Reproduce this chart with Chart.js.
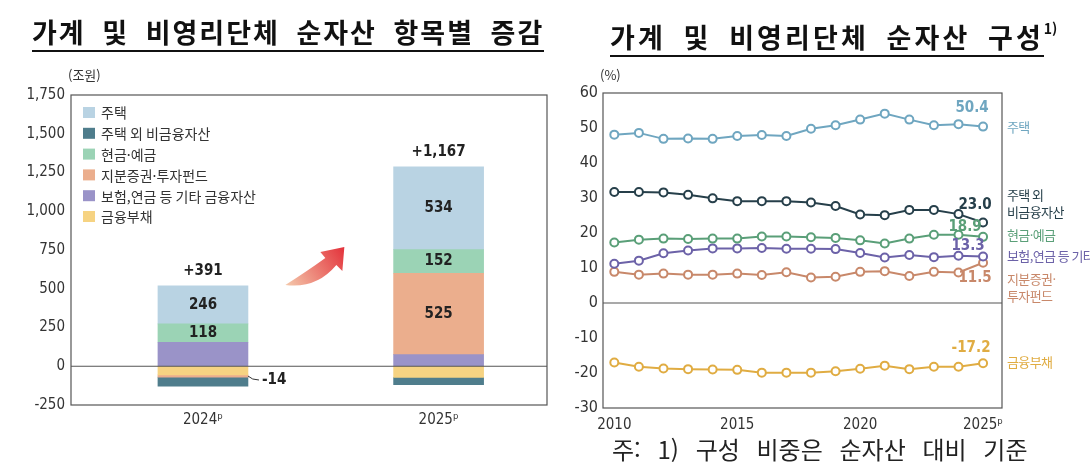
<!DOCTYPE html>
<html lang="ko">
<head>
<meta charset="UTF-8">
<title>가계 및 비영리단체 순자산</title>
<script src="https://cdn.jsdelivr.net/npm/chart.js"></script>
<style>
  body {
    margin: 0;
    background: #fff;
    width: 1090px;
    height: 474px;
    position: relative;
    overflow: hidden;
    font-family: 'Noto Sans CJK KR', sans-serif;
  }
  canvas { position: absolute; top: 0; }
  #leftChart { left: 0; }
  #rightChart { left: 555px; }
  .title {
    position: absolute;
    top: 14px;
    font-weight: 700;
    font-size: 27px;
    line-height: 36px;
    color: #111;
    white-space: nowrap;
  }
  .title span { border-bottom: 2px solid #111; display: inline-block; }
  .title sup { font-size: 14px; letter-spacing: 0; position: relative; top: -4px; }
  .unit { position: absolute; top: 65px; font-size: 13px; color: #333; }
  .note {
    position: absolute;
    left: 612px;
    top: 434px;
    font-size: 24px;
    line-height: 30px;
    color: #222;
    word-spacing: 10px;
    white-space: nowrap;
  }
</style>
</head>
<body>

<canvas id="leftChart" width="555" height="474"></canvas>
<canvas id="rightChart" width="535" height="474"></canvas>

<div class="title" style="left:32px;"><span style="letter-spacing:2px; word-spacing:7px;">가계 및 비영리단체 순자산 항목별 증감</span></div>
<div class="title" style="left:610px;"><span style="letter-spacing:3.1px; word-spacing:7px;">가계 및 비영리단체 순자산 구성</span><sup>1)</sup></div>
<div class="unit" style="left:68px;">(조원)</div>
<div class="unit" style="left:600px;">(%)</div>
<div class="note">주: 1) 구성 비중은 순자산 대비 기준</div>

<script>
  // ---- 왼쪽: 항목별 증감 (조원) ----
  const years = ['2024ᵖ', '2025ᵖ'];
  const changeLabels = ['주택', '주택 외 비금융자산', '현금·예금', '지분증권·투자펀드', '보험,연금 등 기타 금융자산', '금융부채'];
  const housing = [246, 534];
  const nonFinOther = [-58, -47];
  const cashDeposit = [118, 152];
  const equityFund = [-14, 525];
  const insurance = [155, 75];
  const finLiab = [-56, -72];

  // ---- 오른쪽: 순자산 구성 (%) ----
  const compYears = [2010, 2011, 2012, 2013, 2014, 2015, 2016, 2017, 2018, 2019, 2020, 2021, 2022, 2023, 2024, 2025];
  const shareLabels = ['주택', '주택 외\n비금융자산', '현금·예금', '보험,연금 등 기타', '지분증권·\n투자펀드', '금융부채'];
  const housingShare = [48.1, 48.6, 46.9, 47.0, 46.9, 47.7, 48.0, 47.7, 49.8, 50.8, 52.4, 54.1, 52.4, 50.8, 51.1, 50.4];
  const nonFinShare = [31.7, 31.7, 31.6, 30.9, 29.9, 29.1, 29.1, 29.1, 28.7, 27.7, 25.3, 25.1, 26.6, 26.6, 25.4, 23.0];
  const cashShare = [17.3, 18.1, 18.4, 18.3, 18.4, 18.4, 19.0, 19.0, 18.8, 18.6, 17.9, 17.0, 18.4, 19.5, 19.5, 18.9];
  const insShare = [11.2, 12.1, 14.2, 15.0, 15.6, 15.6, 15.7, 15.5, 15.5, 15.4, 14.3, 13.0, 13.7, 13.1, 13.5, 13.3];
  const equityShare = [8.9, 8.1, 8.4, 8.1, 8.1, 8.4, 8.0, 8.8, 7.3, 7.5, 8.9, 9.1, 7.7, 8.9, 8.7, 11.5];
  const liabShare = [-17.0, -18.2, -18.7, -18.9, -19.0, -19.1, -19.9, -19.9, -19.9, -19.5, -18.8, -17.9, -18.9, -18.2, -18.2, -17.2];

  const fontNum = "'Liberation Sans Narrow', 'DejaVu Sans Condensed', 'Noto Sans CJK KR', sans-serif";
  const fontKr = "'Noto Sans CJK KR', sans-serif";

  const changeSeries = [housing, nonFinOther, cashDeposit, equityFund, insurance, finLiab];
  const barColors = ['#b9d3e3', '#4f7d8c', '#9bd3b5', '#ebae8d', '#9a93c8', '#f6d382'];
  const stackOrder = [5, 4, 3, 2, 1, 0]; // 0 기준선에서 가까운 순서
  const valueSeries = [0, 2, 3];         // 막대 안에 값 표시

  const leftDecor = {
    id: 'leftDecor',
    afterDatasetsDraw(chart) {
      const { ctx, chartArea: a, scales: { x, y } } = chart;
      ctx.save();
      ctx.strokeStyle = '#555';
      ctx.lineWidth = 1.2;
      ctx.strokeRect(a.left, a.top, a.width, a.height);
      const y0 = y.getPixelForValue(0);
      ctx.beginPath(); ctx.moveTo(a.left, y0); ctx.lineTo(a.right, y0); ctx.stroke();

      // 막대 값
      ctx.fillStyle = '#222';
      ctx.font = `bold 15px ${fontNum}`;
      ctx.textBaseline = 'middle';
      chart.data.datasets.forEach((ds, di) => {
        if (!ds.showValue) return;
        chart.getDatasetMeta(di).data.forEach((bar, i) => {
          const v = ds.data[i].y;
          const cy = (bar.y + bar.base) / 2;
          if (Math.abs(v) >= 100) {
            ctx.textAlign = 'center';
            ctx.fillText(String(v), bar.x, cy);
          } else {
            const rx = bar.x + bar.width / 2;
            ctx.strokeStyle = '#333'; ctx.lineWidth = 1;
            ctx.beginPath(); ctx.moveTo(rx, cy); ctx.quadraticCurveTo(rx + 4, cy + 4, rx + 11, cy + 4); ctx.stroke();
            ctx.textAlign = 'left';
            ctx.fillText(String(v), rx + 14, cy + 4);
          }
        });
      });

      // 합계
      ctx.textAlign = 'center';
      years.forEach((_, i) => {
        const total = changeSeries.reduce((s, arr) => s + arr[i], 0);
        const top = changeSeries.reduce((s, arr) => s + Math.max(arr[i], 0), 0);
        ctx.fillText('+' + total.toLocaleString('en-US'), x.getPixelForValue(i), y.getPixelForValue(top) - 15);
      });

      // 범례
      ctx.font = `14px ${fontKr}`;
      ctx.textAlign = 'left';
      changeLabels.forEach((lab, k) => {
        const ly = a.top + 17 + k * 20.8;
        ctx.fillStyle = barColors[k];
        ctx.fillRect(a.left + 12, ly - 5, 12, 11);
        ctx.fillStyle = '#333';
        ctx.fillText(lab, a.left + 30, ly + 1);
      });

      // 화살표
      const tx = x.getPixelForValue(0.6), ty = y.getPixelForValue(770);
      const g = ctx.createLinearGradient(tx - 58, ty + 38, tx, ty);
      g.addColorStop(0, '#f4c7aa');
      g.addColorStop(1, '#e3313a');
      ctx.fillStyle = g;
      ctx.beginPath();
      ctx.moveTo(tx - 59, ty + 38);
      ctx.quadraticCurveTo(tx - 37, ty + 24, tx - 19, ty + 11);
      ctx.lineTo(tx - 24, ty + 5);
      ctx.lineTo(tx, ty);
      ctx.lineTo(tx - 2, ty + 24);
      ctx.lineTo(tx - 8, ty + 18);
      ctx.quadraticCurveTo(tx - 28, ty + 42, tx - 59, ty + 38);
      ctx.closePath();
      ctx.fill();
      ctx.restore();
    }
  };

  new Chart(document.getElementById('leftChart'), {
    type: 'bar',
    data: {
      datasets: stackOrder.map(k => ({
        label: changeLabels[k],
        data: changeSeries[k].map((v, i) => ({ x: i, y: v })),
        backgroundColor: barColors[k],
        barThickness: 90,
        showValue: valueSeries.includes(k)
      }))
    },
    options: {
      responsive: false,
      animation: false,
      layout: { padding: { top: 95, right: 8, bottom: 39, left: 0 } },
      plugins: { legend: { display: false }, tooltip: { enabled: false } },
      scales: {
        x: {
          type: 'linear',
          stacked: true,
          offset: false,
          min: -0.56,
          max: 1.46,
          grid: { display: false, drawTicks: false },
          border: { display: false },
          afterBuildTicks: s => { s.ticks = years.map((_, i) => ({ value: i })); },
          afterFit: s => { s.height = 30; },
          ticks: {
            callback: v => years[v],
            color: '#333',
            padding: 6,
            maxRotation: 0,
            font: { family: fontNum, size: 15 }
          }
        },
        y: {
          stacked: true,
          min: -250,
          max: 1750,
          grid: { display: false, drawTicks: false },
          border: { display: false },
          afterFit: s => { s.width = 71; },
          ticks: {
            stepSize: 250,
            color: '#333',
            padding: 6,
            font: { family: fontNum, size: 15 }
          }
        }
      }
    },
    plugins: [leftDecor]
  });

  // ---- 오른쪽 차트 ----
  const shareSeries = [housingShare, nonFinShare, cashShare, insShare, equityShare, liabShare];
  const lineColors = ['#6fa6c0', '#263f4a', '#5a9f78', '#6c62a8', '#c8886a', '#e0ac42'];
  const valueOffsets = [[-11, -18], [-8, -17], [-18, -10], [-15, -10], [-8, 15], [-12, -15]];
  const nameOffsets = [0, -27, -2, 0, 16, -1];

  const rightDecor = {
    id: 'rightDecor',
    afterDatasetsDraw(chart) {
      const { ctx, chartArea: a, scales: { y } } = chart;
      ctx.save();
      ctx.strokeStyle = '#555';
      ctx.lineWidth = 1.2;
      ctx.strokeRect(a.left, a.top, a.width, a.height);
      const y0 = y.getPixelForValue(0);
      ctx.beginPath(); ctx.moveTo(a.left, y0); ctx.lineTo(a.right, y0); ctx.stroke();

      ctx.textBaseline = 'middle';
      chart.data.datasets.forEach((ds, di) => {
        const pts = chart.getDatasetMeta(di).data;
        const last = pts[pts.length - 1];
        const v = ds.data[ds.data.length - 1].y;
        ctx.fillStyle = lineColors[di];
        ctx.font = `bold 15px ${fontNum}`;
        ctx.textAlign = 'center';
        ctx.letterSpacing = '0px';
        ctx.fillText(v.toFixed(1), last.x + valueOffsets[di][0], last.y + valueOffsets[di][1]);
        ctx.font = `13px ${fontKr}`;
        ctx.textAlign = 'left';
        ctx.letterSpacing = '-0.6px';
        shareLabels[di].split('\n').forEach((line, li) => {
          ctx.fillText(line, a.right + 5, last.y + nameOffsets[di] + li * 17);
        });
      });
      ctx.restore();
    }
  };

  new Chart(document.getElementById('rightChart'), {
    type: 'line',
    data: {
      datasets: shareSeries.map((arr, k) => ({
        label: shareLabels[k],
        data: arr.map((v, i) => ({ x: compYears[i], y: v })),
        borderColor: lineColors[k],
        backgroundColor: '#fff',
        borderWidth: 2,
        pointRadius: 4,
        pointBorderWidth: 2,
        pointBackgroundColor: '#fff',
        pointBorderColor: lineColors[k],
        tension: 0
      }))
    },
    options: {
      responsive: false,
      animation: false,
      layout: { padding: { top: 93, right: 88, bottom: 36, left: 0 } },
      plugins: { legend: { display: false }, tooltip: { enabled: false } },
      scales: {
        x: {
          type: 'linear',
          min: 2009.54,
          max: 2025.77,
          grid: { display: false, drawTicks: false },
          border: { display: false },
          afterBuildTicks: s => { s.ticks = [2010, 2015, 2020, 2025].map(v => ({ value: v })); },
          afterFit: s => { s.height = 30; },
          ticks: {
            callback: v => v === 2025 ? '2025ᵖ' : String(v),
            color: '#333',
            padding: 8,
            maxRotation: 0,
            font: { family: fontNum, size: 15 }
          }
        },
        y: {
          min: -30,
          max: 60,
          grid: { display: false, drawTicks: false },
          border: { display: false },
          afterFit: s => { s.width = 48; },
          ticks: {
            stepSize: 10,
            color: '#333',
            padding: 5,
            font: { family: fontNum, size: 16 }
          }
        }
      }
    },
    plugins: [rightDecor]
  });
</script>
</body>
</html>
